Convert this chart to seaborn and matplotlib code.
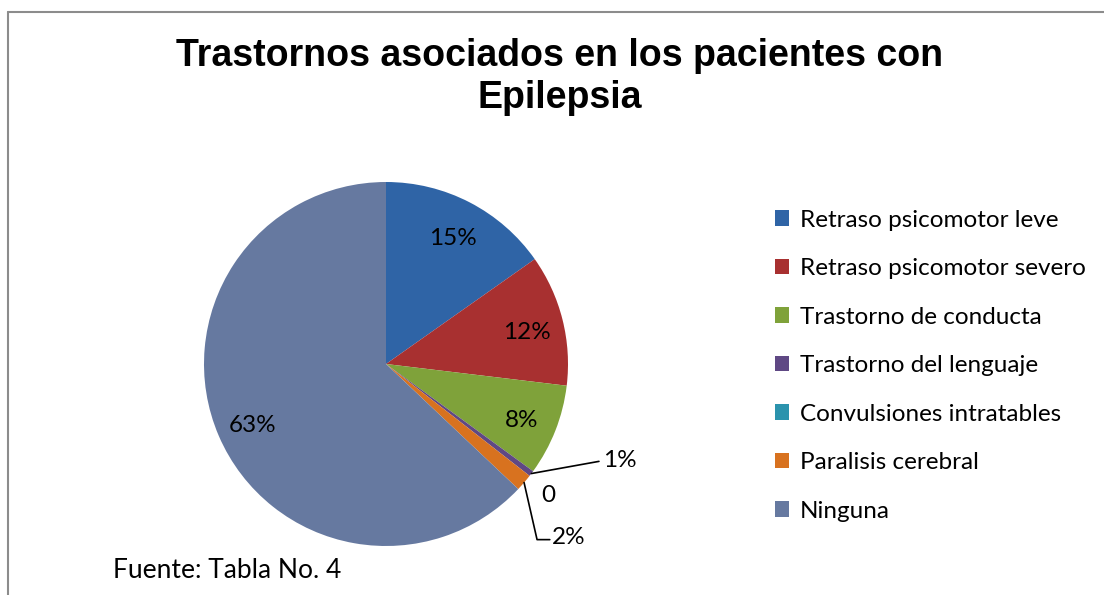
import numpy as np
import matplotlib
matplotlib.use("Agg")
import matplotlib.pyplot as plt
import seaborn as sns
from matplotlib.lines import Line2D

# chart data (counts)
categories = ["Retraso psicomotor leve", "Retraso psicomotor severo",
              "Trastorno de conducta", "Trastorno del lenguaje",
              "Convulsiones intratables", "Paralisis cerebral", "Ninguna"]
counts = [30, 23, 16, 1, 0, 3, 124]
pct_labels = ["15%", "12%", "8%", "1%", "0", "2%", "63%"]
colors = ["#2f64a6", "#a83030", "#7fa23a", "#5f4884", "#2b93ad", "#d8721f", "#6679a0"]

sns.set_theme(style="white")
plt.rcParams["font.family"] = ["Lato", "DejaVu Sans"]
plt.rcParams["text.color"] = "black"

fig = plt.figure(figsize=(11.04, 5.95), dpi=100)

# chart border (top and left edges visible)
fig.add_artist(Line2D([8 / 1104, 1.0], [1 - 12 / 595] * 2, color="#8c8c8c", lw=1.5,
                      transform=fig.transFigure))
fig.add_artist(Line2D([8 / 1104] * 2, [0, 1 - 12 / 595], color="#8c8c8c", lw=1.5,
                      transform=fig.transFigure))

fig.text(560 / 1104, 1 - 77 / 595, "Trastornos asociados en los pacientes con\nEpilepsia",
         ha="center", va="center", fontsize=27, fontweight="bold", color="black",
         family=["Liberation Sans", "DejaVu Sans"], linespacing=1.2)

ax = fig.add_axes([204 / 1104, 49 / 595, 364 / 1104, 364 / 595])
wedges, _ = ax.pie(counts, colors=colors, startangle=90, counterclock=False,
                   radius=1.0, wedgeprops=dict(linewidth=0))
ax.set_xlim(-1, 1)
ax.set_ylim(-1, 1)
ax.set_aspect("equal")
ax.axis("off")

fs = 17.5

# inside labels for the big slices
for i in [0, 1, 2, 6]:
    w = wedges[i]
    mid = np.deg2rad((w.theta1 + w.theta2) / 2)
    ax.text(0.8 * np.cos(mid), 0.8 * np.sin(mid) - 0.02, pct_labels[i],
            ha="center", va="center", fontsize=fs)

# outside labels with leader lines for the thin slices
def edge(i):
    w = wedges[i]
    mid = np.deg2rad((w.theta1 + w.theta2) / 2)
    return np.cos(mid), np.sin(mid)

x0, y0 = edge(3)
ax.plot([x0, 1.17], [y0, -0.535], color="black", lw=1.2, clip_on=False)
ax.text(1.19, -0.53, pct_labels[3], ha="left", va="center", fontsize=fs, clip_on=False)

ax.text(0.89, -0.725, pct_labels[4], ha="center", va="center", fontsize=fs, clip_on=False)

x0, y0 = edge(5)
ax.plot([x0, 0.83, 0.9], [y0, -0.965, -0.965], color="black", lw=1.2, clip_on=False)
ax.text(0.91, -0.955, pct_labels[5], ha="left", va="center", fontsize=fs, clip_on=False)

fig.legend(wedges, categories, loc="upper left", bbox_to_anchor=(765 / 1104, 1 - 200 / 595),
           frameon=False, fontsize=fs, handlelength=0.6, handleheight=0.6,
           handletextpad=0.45, labelspacing=1.13, borderaxespad=0)

fig.text(113 / 1104, 1 - 571 / 595, "Fuente: Tabla No. 4", ha="left", va="center",
         fontsize=19)

fig.savefig("out.png", dpi=100, facecolor="white")
